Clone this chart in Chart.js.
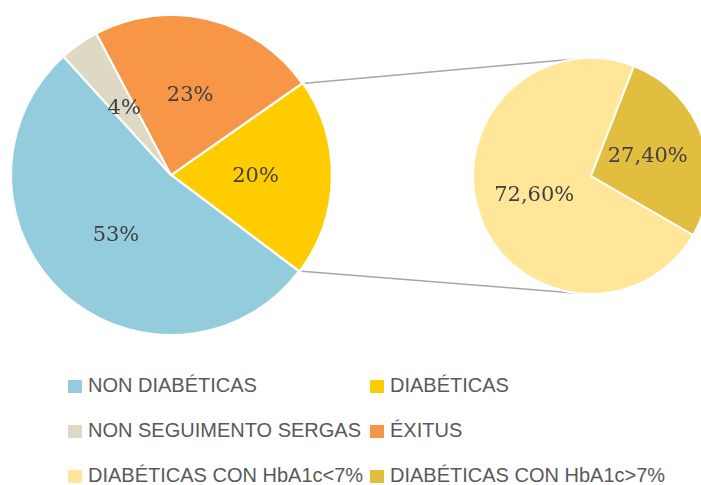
<!DOCTYPE html>
<html lang="es">
<head>
    <meta charset="UTF-8">
    <title>Diabéticas</title>
    <script src="https://cdn.jsdelivr.net/npm/chart.js"></script>
    <style>
        body {
            margin: 0;
            background: #fff;
        }
        .wrap {
            position: relative;
            width: 701px;
            height: 485px;
            overflow: hidden;
        }
        .wrap canvas {
            position: absolute;
        }
        #lines { left: 0; top: 0; }
        #mainPie { left: 0; top: 0; }
        #subPie { left: 461px; top: 46px; }
        .legend {
            position: absolute;
            left: 68px;
            top: 363px;
            display: grid;
            grid-template-columns: 302px 320px;
            grid-auto-rows: 45px;
            font-family: 'Liberation Sans', Arial, sans-serif;
            font-size: 20px;
            color: #595959;
        }
        .legend div {
            display: flex;
            align-items: center;
            white-space: nowrap;
        }
        .legend span.box {
            display: inline-block;
            flex: 0 0 14px;
            height: 13px;
            margin-right: 6px;
            margin-top: 2px;
        }
    </style>
</head>
<body>
<div class="wrap">
    <canvas id="lines" width="701" height="350"></canvas>
    <canvas id="mainPie" width="342" height="350"></canvas>
    <canvas id="subPie" width="260" height="260"></canvas>
    <div class="legend" id="legend"></div>
</div>

<script>
    // main pie, clockwise order as drawn
    const mainLabels = ["NON DIABÉTICAS", "NON SEGUIMENTO SERGAS", "ÉXITUS", "DIABÉTICAS"];
    const mainValues = [53, 4, 23, 20];
    const mainColors = ["#93CDDD", "#DDD9C4", "#F79646", "#FFCC00"];

    // breakdown of DIABÉTICAS
    const subLabels = ["DIABÉTICAS CON HbA1c<7%", "DIABÉTICAS CON HbA1c>7%"];
    const subValues = [72.6, 27.4];
    const subColors = ["#FFE699", "#E1BE40"];

    // legend reading order (row by row)
    const legendOrder = [
        ["NON DIABÉTICAS", "#93CDDD"], ["DIABÉTICAS", "#FFCC00"],
        ["NON SEGUIMENTO SERGAS", "#DDD9C4"], ["ÉXITUS", "#F79646"],
        ["DIABÉTICAS CON HbA1c<7%", "#FFE699"], ["DIABÉTICAS CON HbA1c>7%", "#E1BE40"]
    ];

    function pctLabels(fmt) {
        return {
            id: 'pctLabels',
            afterDatasetsDraw(chart) {
                const ctx = chart.ctx;
                const meta = chart.getDatasetMeta(0);
                const vals = chart.data.datasets[0].data;
                ctx.save();
                ctx.font = "21px 'DejaVu Serif', serif";
                ctx.fillStyle = "#404040";
                ctx.textAlign = "center";
                ctx.textBaseline = "middle";
                meta.data.forEach((arc, i) => {
                    const mid = (arc.startAngle + arc.endAngle) / 2;
                    const r = arc.outerRadius * 0.51 + (arc.options.offset || 0);
                    ctx.fillText(fmt(vals[i]), arc.x + Math.cos(mid) * r, arc.y + Math.sin(mid) * r);
                });
                ctx.restore();
            }
        };
    }

    const commonOpts = {
        responsive: false,
        animation: false,
        events: [],
        plugins: { legend: { display: false }, tooltip: { enabled: false } }
    };

    const mainChart = new Chart(document.getElementById("mainPie"), {
        type: 'pie',
        data: {
            labels: mainLabels,
            datasets: [{
                data: mainValues,
                backgroundColor: mainColors,
                borderColor: "#fff",
                borderWidth: 2,
                offset: [0, 0, 0, 3]
            }]
        },
        options: Object.assign({}, commonOpts, { rotation: 127, radius: 160 }),
        plugins: [pctLabels(v => Math.round(v) + "%")]
    });

    const subChart = new Chart(document.getElementById("subPie"), {
        type: 'pie',
        data: {
            labels: subLabels,
            datasets: [{
                data: subValues,
                backgroundColor: subColors,
                borderColor: "#fff",
                borderWidth: 2
            }]
        },
        options: Object.assign({}, commonOpts, { rotation: 120, radius: 118 }),
        plugins: [pctLabels(v => v.toFixed(2).replace(".", ",") + "%")]
    });

    // connector lines from the DIABÉTICAS slice to the secondary pie
    function drawConnectors() {
        const c = document.getElementById("lines");
        const ctx = c.getContext("2d");
        const arc = mainChart.getDatasetMeta(0).data[3];
        const sub = subChart.getDatasetMeta(0).data[0];
        const mainBox = document.getElementById("mainPie");
        const subBox = document.getElementById("subPie");
        const ox = mainBox.offsetLeft + (arc.options.offset || 0), oy = mainBox.offsetTop;
        const sx = subBox.offsetLeft, sy = subBox.offsetTop;
        const r = arc.outerRadius;
        const a1 = arc.startAngle, a2 = arc.endAngle;
        const tilt = 5 * Math.PI / 180;
        const top = -Math.PI / 2 - tilt, bottom = Math.PI / 2 + tilt;
        ctx.strokeStyle = "#A6A6A6";
        ctx.lineWidth = 1.6;
        ctx.beginPath();
        ctx.moveTo(ox + arc.x + Math.cos(a1) * r, oy + arc.y + Math.sin(a1) * r);
        ctx.lineTo(sx + sub.x + Math.cos(top) * sub.outerRadius, sy + sub.y + Math.sin(top) * sub.outerRadius);
        ctx.moveTo(ox + arc.x + Math.cos(a2) * r, oy + arc.y + Math.sin(a2) * r);
        ctx.lineTo(sx + sub.x + Math.cos(bottom) * sub.outerRadius, sy + sub.y + Math.sin(bottom) * sub.outerRadius);
        ctx.stroke();
    }
    drawConnectors();

    const legend = document.getElementById("legend");
    legendOrder.forEach(([name, color]) => {
        const item = document.createElement("div");
        const box = document.createElement("span");
        box.className = "box";
        box.style.background = color;
        const txt = document.createElement("span");
        txt.textContent = name;
        item.appendChild(box);
        item.appendChild(txt);
        legend.appendChild(item);
    });
</script>
</body>
</html>
